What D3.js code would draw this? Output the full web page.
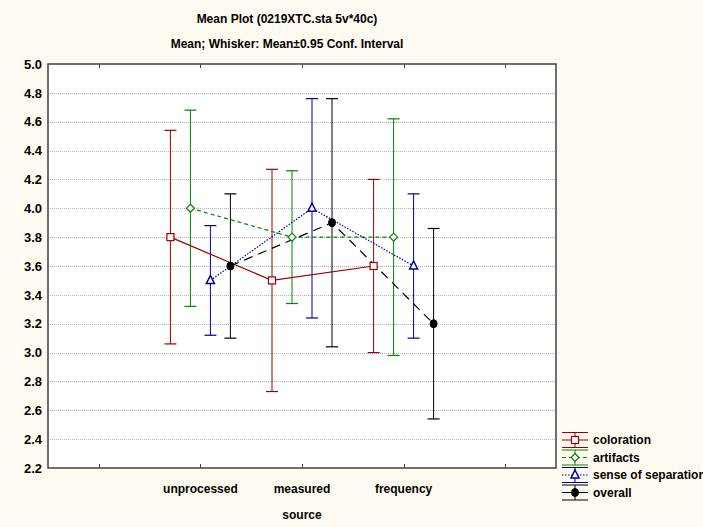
<!DOCTYPE html>
<html>
<head>
<meta charset="utf-8">
<script src="https://cdn.jsdelivr.net/npm/d3@7"></script>
<style>
  html, body { margin: 0; padding: 0; background: #fffaf0; }
  svg { display: block; }
  text { font-family: "Liberation Sans", Arial, sans-serif; font-weight: bold; fill: #000; }
</style>
</head>
<body>
<svg id="chart" width="703" height="527"></svg>
<script>
// ---- data ----
const categories = ["unprocessed", "measured", "frequency"];
const slots = ["", "unprocessed", "measured", "frequency", " "];
const seriesNames = ["coloration", "artifacts", "sense of separation", "overall"];
const colorationMean = [3.80, 3.50, 3.60];
const colorationCI   = [0.74, 0.77, 0.60];
const artifactsMean  = [4.00, 3.80, 3.80];
const artifactsCI    = [0.68, 0.46, 0.82];
const senseMean      = [3.50, 4.00, 3.60];
const senseCI        = [0.38, 0.76, 0.50];
const overallMean    = [3.60, 3.90, 3.20];
const overallCI      = [0.50, 0.86, 0.66];
const yTicks = [2.2, 2.4, 2.6, 2.8, 3.0, 3.2, 3.4, 3.6, 3.8, 4.0, 4.2, 4.4, 4.6, 4.8, 5.0];
const titleText = "Mean Plot (0219XTC.sta 5v*40c)";
const subtitleText = "Mean; Whisker: Mean\u00B10.95 Conf. Interval";
const xAxisTitle = "source";

const series = [
  { name: seriesNames[0], mean: colorationMean, ci: colorationCI, color: "#990000", dash: null,   marker: "square" },
  { name: seriesNames[1], mean: artifactsMean,  ci: artifactsCI,  color: "#008800", dash: "4,3",  marker: "diamond" },
  { name: seriesNames[2], mean: senseMean,      ci: senseCI,      color: "#000099", dash: "1.5,1.5", marker: "triangle" },
  { name: seriesNames[3], mean: overallMean,    ci: overallCI,    color: "#000000", dash: "9,6",  marker: "circle" }
];

const svg = d3.select("#chart");
const L = 48, R = 556, T = 64, B = 468;

const x = d3.scaleBand().domain(slots).range([L, R]).paddingInner(0).paddingOuter(0);
const off = d3.scalePoint().domain(seriesNames).range([-30, 30]);
const y = d3.scaleLinear().domain([2.2, 5.0]).range([B, T]);
const cx = (c) => x(c) + x.bandwidth() / 2;

// plot background
svg.append("rect").attr("x", L).attr("y", T).attr("width", R - L).attr("height", B - T).attr("fill", "#ffffff");

// grid
svg.append("g").selectAll("line").data(yTicks.filter(v => v > 2.2 && v < 5.0)).join("line")
  .attr("x1", L).attr("x2", R)
  .attr("y1", d => Math.round(y(d)) + 0.5).attr("y2", d => Math.round(y(d)) + 0.5)
  .attr("stroke", "#b4b4b4").attr("stroke-width", 1).attr("stroke-dasharray", "1,1");

// frame
svg.append("rect").attr("x", L).attr("y", T).attr("width", R - L).attr("height", B - T)
  .attr("fill", "none").attr("stroke", "#404040").attr("stroke-width", 1.5);

// ticks top / bottom (inward)
const tickG = svg.append("g");
slots.forEach(s => {
  const xx = Math.round(cx(s)) + 0.5;
  tickG.append("line").attr("x1", xx).attr("x2", xx).attr("y1", B).attr("y2", B - 4).attr("stroke", "#404040");
  tickG.append("line").attr("x1", xx).attr("x2", xx).attr("y1", T).attr("y2", T + 4).attr("stroke", "#404040");
});

// y labels
svg.append("g").selectAll("text").data(yTicks).join("text")
  .attr("x", 42).attr("y", d => y(d)).attr("dy", "0.36em")
  .attr("text-anchor", "end").style("font-size", "13px")
  .text(d => d.toFixed(1));

// x labels
svg.append("g").selectAll("text").data(categories).join("text")
  .attr("x", d => cx(d)).attr("y", 489).attr("dy", "0.36em")
  .attr("text-anchor", "middle").style("font-size", "12px")
  .text(d => d);
svg.append("text").attr("x", cx("measured")).attr("y", 515).attr("dy", "0.36em")
  .attr("text-anchor", "middle").style("font-size", "12px").text(xAxisTitle);

// titles
svg.append("text").attr("x", 287).attr("y", 19).attr("dy", "0.36em")
  .attr("text-anchor", "middle").style("font-size", "12px").text(titleText);
svg.append("text").attr("x", 287).attr("y", 44).attr("dy", "0.36em")
  .attr("text-anchor", "middle").style("font-size", "12px").text(subtitleText);

function drawMarker(g, type, px, py, color) {
  if (type === "square") {
    g.append("rect").attr("x", px - 3.5).attr("y", py - 3.5).attr("width", 7).attr("height", 7)
      .attr("fill", "#fff").attr("stroke", color).attr("stroke-width", 1.2);
  } else if (type === "diamond") {
    g.append("path").attr("d", `M${px},${py - 4}L${px + 4},${py}L${px},${py + 4}L${px - 4},${py}Z`)
      .attr("fill", "#fff").attr("stroke", color).attr("stroke-width", 1.2);
  } else if (type === "triangle") {
    g.append("path").attr("d", `M${px},${py - 5}L${px + 4},${py + 3}L${px - 4},${py + 3}Z`)
      .attr("fill", "#fff").attr("stroke", color).attr("stroke-width", 1.5);
  } else {
    g.append("ellipse").attr("cx", px).attr("cy", py).attr("rx", 3.5).attr("ry", 4)
      .attr("fill", color).attr("stroke", color);
  }
}

// series
const plotG = svg.append("g");
// whiskers
series.forEach(s => {
  const g = plotG.append("g");
  categories.forEach((c, i) => {
    const px = cx(c) + off(s.name);
    const yt = y(s.mean[i] + s.ci[i]), yb = y(s.mean[i] - s.ci[i]);
    g.append("line").attr("x1", px).attr("x2", px).attr("y1", yt).attr("y2", yb).attr("stroke", s.color).attr("stroke-width", 1);
    g.append("line").attr("x1", px - 6).attr("x2", px + 6).attr("y1", yt).attr("y2", yt).attr("stroke", s.color).attr("stroke-width", 1.2);
    g.append("line").attr("x1", px - 6).attr("x2", px + 6).attr("y1", yb).attr("y2", yb).attr("stroke", s.color).attr("stroke-width", 1.2);
  });
});
// mean lines
const line = d3.line().x(d => d[0]).y(d => d[1]);
series.forEach(s => {
  const pts = categories.map((c, i) => [cx(c) + off(s.name), y(s.mean[i])]);
  plotG.append("path").attr("d", line(pts)).attr("fill", "none")
    .attr("stroke", s.color).attr("stroke-width", 1.2)
    .attr("stroke-dasharray", s.dash);
});
// markers
series.forEach(s => {
  const g = plotG.append("g");
  categories.forEach((c, i) => drawMarker(g, s.marker, cx(c) + off(s.name), y(s.mean[i]), s.color));
});

// legend
const legG = svg.append("g");
series.forEach((s, i) => {
  const ly = 440 + i * 17.5;
  const x0 = 562, x1 = 588, xm = (x0 + x1) / 2;
  legG.append("line").attr("x1", x0).attr("x2", x1).attr("y1", ly - 7.5).attr("y2", ly - 7.5).attr("stroke", s.color);
  legG.append("line").attr("x1", x0).attr("x2", x1).attr("y1", ly + 7.5).attr("y2", ly + 7.5).attr("stroke", s.color);
  legG.append("line").attr("x1", xm).attr("x2", xm).attr("y1", ly - 7.5).attr("y2", ly + 7.5).attr("stroke", s.color);
  legG.append("line").attr("x1", x0).attr("x2", x1).attr("y1", ly).attr("y2", ly).attr("stroke", s.color)
    .attr("stroke-dasharray", s.dash === "9,6" ? null : s.dash);
  drawMarker(legG, s.marker, xm, ly, s.color);
  legG.append("text").attr("x", 593).attr("y", ly).attr("dy", "0.36em").style("font-size", "12px").text(s.name);
});
</script>
</body>
</html>
